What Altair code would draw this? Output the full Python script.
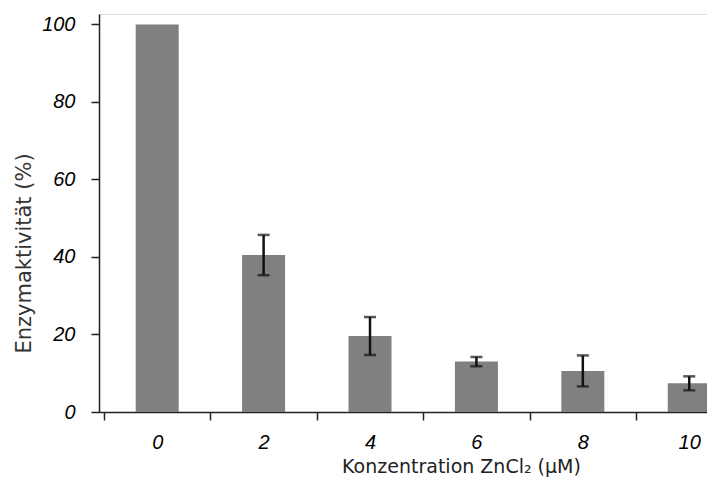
import altair as alt
import pandas as pd

# Data
concentrations = [0, 2, 4, 6, 8, 10]          # ZnCl2 (µM)
activity = [100, 40.5, 19.6, 13.0, 10.6, 7.4]  # Enzymaktivität (%)
errors = [0, 5.2, 4.9, 1.2, 4.0, 1.8]          # +/- error

df = pd.DataFrame({"conc": concentrations, "act": activity, "err": errors})
df["lo"] = df["act"] - df["err"]
df["hi"] = df["act"] + df["err"]
err_df = df[df["err"] > 0]

label_font = "Liberation Sans"
title_font = "DejaVu Sans"

x_scale = alt.Scale(domain=[-1, 10.24], nice=False, zero=False)
y_scale = alt.Scale(domain=[0, 102.7], nice=False)

x_axis = alt.Axis(
    values=list(range(-1, 11)),
    labelExpr="datum.value % 2 == 0 ? datum.label : ''",
    tickOpacity={"condition": {"test": "datum.value % 2 == 0", "value": 0}, "value": 1},
    labelOverlap=False,
    labelBound=False,
    labelFlush=False,
    grid=False,
    tickSize=8,
    tickWidth=1.5,
    tickColor="#222222",
    domainColor="#222222",
    domainWidth=1.5,
    labelFont=label_font,
    labelFontSize=20,
    labelFontStyle="italic",
    labelColor="#000000",
    labelPadding=12,
    title="Konzentration ZnCl₂ (µM)",
    titleFont=title_font,
    titleFontSize=19,
    titleFontWeight="normal",
    titleColor="#222222",
    titleAnchor="start",
    titleAlign="center",
    titleBaseline="alphabetic",
    titleX=362,
    titleY=60,
)

y_axis = alt.Axis(
    values=[0, 20, 40, 60, 80, 100],
    grid=False,
    tickSize=8,
    tickWidth=1.5,
    tickColor="#222222",
    domainColor="#222222",
    domainWidth=1.5,
    labelFont=label_font,
    labelFontSize=20,
    labelFontStyle="italic",
    labelColor="#000000",
    labelPadding=16,
    title="Enzymaktivität (%)",
    titleFont=title_font,
    titleFontSize=21,
    titleFontWeight="normal",
    titleColor="#333333",
    titleAnchor="start",
    titleAlign="center",
    titleBaseline="middle",
    titleAngle=-90,
    titleX=-75,
    titleY=239,
)

bars = alt.Chart(df).mark_bar(size=43, color="#808080", clip=True).encode(
    x=alt.X("conc:Q", scale=x_scale, axis=x_axis),
    y=alt.Y("act:Q", scale=y_scale, axis=y_axis),
)

stems = alt.Chart(err_df).mark_rule(color="#111111", strokeWidth=2.5).encode(
    x=alt.X("conc:Q", scale=x_scale),
    y=alt.Y("lo:Q", scale=y_scale),
    y2="hi:Q",
)

caps_hi = alt.Chart(err_df).mark_tick(
    color="#111111", orient="horizontal", size=12, thickness=2.5
).encode(
    x=alt.X("conc:Q", scale=x_scale),
    y=alt.Y("hi:Q", scale=y_scale),
)

caps_lo = alt.Chart(err_df).mark_tick(
    color="#111111", orient="horizontal", size=12, thickness=2.5
).encode(
    x=alt.X("conc:Q", scale=x_scale),
    y=alt.Y("lo:Q", scale=y_scale),
)

chart = (
    alt.layer(bars, stems, caps_hi, caps_lo)
    .properties(
        width=608,
        height=398,
        autosize=alt.AutoSizeParams(type="none"),
        padding={"left": 91, "top": 6, "right": 0, "bottom": 65},
    )
    .configure_view(stroke=None)
    .configure(background="white")
)

chart.save("out.html", embed_options={"renderer": "svg", "actions": False})
